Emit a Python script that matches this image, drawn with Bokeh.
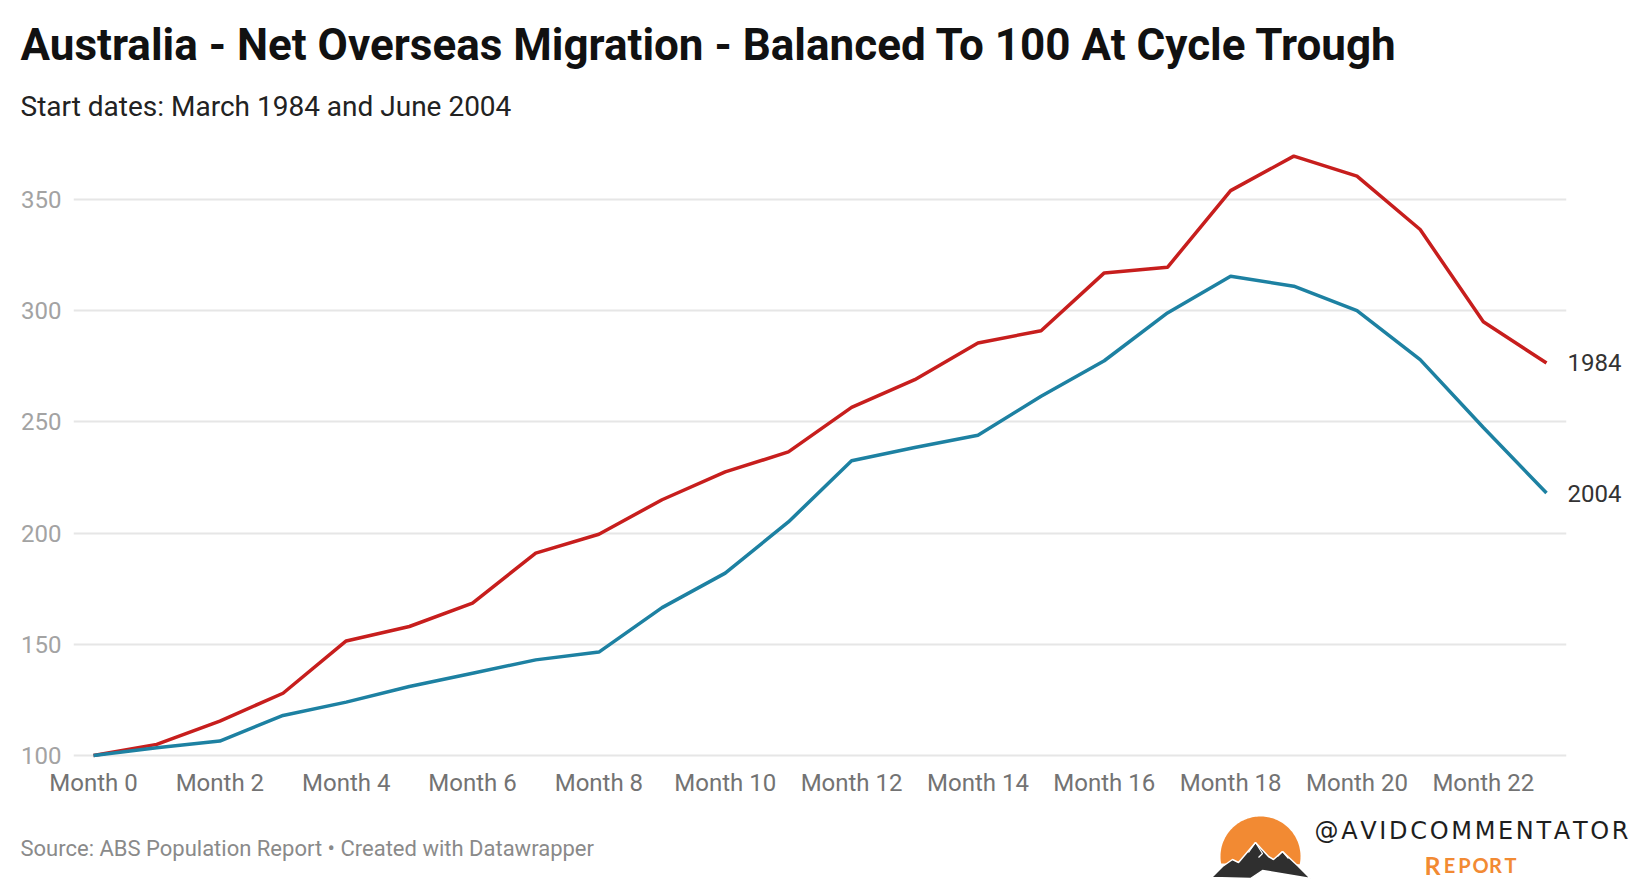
import numpy as np
from bokeh.plotting import figure
from bokeh.models import Label, FixedTicker, Range1d, LinearAxis
from bokeh.layouts import column
from bokeh.embed import file_html
from bokeh.resources import INLINE

# ---------------- data ----------------
months = list(range(24))
tick_months = list(range(0, 23, 2))
tick_labels = [f"Month {m}" for m in tick_months]
y_ticks = [100, 150, 200, 250, 300, 350]
series_names = ["1984", "2004"]
nom_1984 = [100, 105, 115.5, 128, 151.5, 158, 168.5, 191, 199.5, 215, 227.5, 236.5,
            256.5, 269, 285.5, 291, 317, 319.5, 354, 369.5, 360.5, 336.5, 295, 276.5]
nom_2004 = [100, 103.5, 106.5, 118, 124, 131, 137, 143, 146.5, 166.5, 182, 205,
            232.5, 238.5, 244, 261.5, 277.5, 299, 315.5, 311, 300, 278, 247.5, 218]
colors = ["#c71e1d", "#1d81a2"]

title_text = "Australia - Net Overseas Migration - Balanced To 100 At Cycle Trough"
subtitle_text = "Start dates: March 1984 and June 2004"
source_text = "Source: ABS Population Report \u2022 Created with Datawrapper"

# ---------------- layout (page pixels) ----------------
W = 1636
HEAD_H = 135
MAIN_H = 670
FOOT_H = 75
FL, FR, FT, FB = 73, 1566, 140, 758      # frame edges on page
PX_M = 63.17                              # px per month
PX_U = 2.224                              # px per unit
x0 = -(93 - FL) / PX_M
x1 = 23 + (FR - 1546) / PX_M
y0 = 100 - (FB - 755) / PX_U
y1 = 350 + (199 - FT) / PX_U


def blank(h, top):
    f = figure(width=W, height=h, output_backend="svg", toolbar_location=None,
               x_range=Range1d(0, W), y_range=Range1d(top + h, top),
               x_axis_type=None, y_axis_type=None,
               min_border_left=0, min_border_right=0, min_border_top=0,
               min_border_bottom=0)
    f.outline_line_color = None
    f.background_fill_color = "white"
    f.border_fill_color = "white"
    if "frame_align" in f.properties():
        f.frame_align = False
    return f


# ---------------- header ----------------
head = blank(HEAD_H, 0)
head.add_layout(Label(x=20, y=44, text=title_text, text_font="Roboto",
                      text_font_style="bold", text_font_size="44px",
                      text_color="#111111", text_baseline="alphabetic"))
head.add_layout(Label(x=20, y=106, text=subtitle_text, text_font="Roboto",
                      text_font_size="28px", text_color="#222222",
                      text_baseline="alphabetic"))

# ---------------- main chart ----------------
top0 = HEAD_H
p = figure(width=W, height=MAIN_H, output_backend="svg", toolbar_location=None,
           x_range=Range1d(x0, x1), y_range=Range1d(y0, y1),
           min_border_left=FL, min_border_right=W - FR,
           min_border_top=FT - top0, min_border_bottom=top0 + MAIN_H - FB)
p.outline_line_color = None
p.background_fill_color = "white"
p.border_fill_color = "white"

end_axis = LinearAxis(ticker=FixedTicker(ticks=[nom_1984[-1], nom_2004[-1]]),
                      major_label_overrides={nom_1984[-1]: series_names[0],
                                             nom_2004[-1]: series_names[1]})
p.add_layout(end_axis, "right")

for ax in (p.xaxis[0], p.yaxis[0], end_axis):
    ax.axis_line_color = None
    ax.major_tick_line_color = None
    ax.minor_tick_line_color = None
    ax.major_tick_out = 0
    ax.major_tick_in = 0
    ax.major_label_text_font = "Roboto"
    ax.major_label_text_font_size = "24px"

p.xaxis.ticker = FixedTicker(ticks=tick_months)
p.xaxis.major_label_overrides = {m: lab for m, lab in zip(tick_months, tick_labels)}
p.xaxis.major_label_text_color = "#737373"
p.xaxis.major_label_standoff = 10

p.yaxis[0].ticker = FixedTicker(ticks=y_ticks)
p.yaxis[0].major_label_text_color = "#a3a3a3"
p.yaxis[0].major_label_standoff = 12

end_axis.major_label_text_color = "#333333"
end_axis.major_label_standoff = 1

p.xgrid.visible = False
p.ygrid.ticker = FixedTicker(ticks=y_ticks)
p.ygrid.grid_line_color = "#e6e6e6"
p.ygrid.grid_line_width = 2

for vals, col in zip([nom_1984, nom_2004], colors):
    p.line(months, vals, line_color=col, line_width=3.5)

# ---------------- footer ----------------
ftop = HEAD_H + MAIN_H
foot = blank(FOOT_H, ftop)
foot.add_layout(Label(x=20, y=848, text=source_text, text_font="Roboto",
                      text_font_size="22px", text_color="#8a8a8a",
                      text_baseline="alphabetic"))

cx, cy, r, cut = 1260, 856, 40, 864
ang = np.linspace(0, 2 * np.pi, 160)
ox = cx + r * np.cos(ang)
oy = cy - r * np.sin(ang)
keep = oy <= cut
order = np.argsort(np.arctan2(-(oy[keep] - cy), ox[keep] - cx))
foot.patch(ox[keep][order], oy[keep][order], fill_color="#f28a33", line_color=None)

mx = [1211, 1222, 1232, 1238, 1255, 1268, 1273, 1282, 1298, 1310, 1262, 1250]
my = [877, 866, 859, 862, 842, 856, 859, 851, 866, 878, 870, 878]
foot.patch(mx, my, fill_color="#2f2f2f", line_color="white", line_width=1.5)
foot.line([1248, 1255, 1262, 1258], [852, 842, 853, 857], line_color="white", line_width=1.2)
foot.line([1277, 1282, 1288], [856, 851, 858], line_color="white", line_width=1.2)

# letter-spaced handle (glyph advance widths of DejaVu Sans, em units)
handle = "@AVIDCOMMENTATOR"
adv = {"@": 1.0, "A": 0.684, "V": 0.684, "I": 0.295, "D": 0.770, "C": 0.698,
       "O": 0.787, "M": 0.863, "E": 0.632, "N": 0.748, "T": 0.611, "R": 0.695}
hs = 24
span_l, span_r = 1314, 1628
total = sum(adv[c] for c in handle) * hs
gap = (span_r - span_l - total) / (len(handle) - 1)
xcur = span_l
for ch in handle:
    foot.add_layout(Label(x=xcur, y=830, text=ch, text_align="left",
                          text_baseline="alphabetic", text_font="DejaVu Sans",
                          text_font_size=f"{hs}px", text_color="#1e1e1e"))
    xcur += adv[ch] * hs + gap

report = "REPORT"
rx = [1432, 1449, 1464, 1480, 1495, 1510]
for i, ch in enumerate(report):
    foot.add_layout(Label(x=rx[i], y=864, text=ch, text_align="center",
                          text_baseline="alphabetic", text_font="Lato",
                          text_font_style="bold",
                          text_font_size="25px" if i == 0 else "20px",
                          text_color="#f28a33"))

layout = column(head, p, foot, spacing=0)
open("out.html", "w").write(file_html(layout, INLINE))
